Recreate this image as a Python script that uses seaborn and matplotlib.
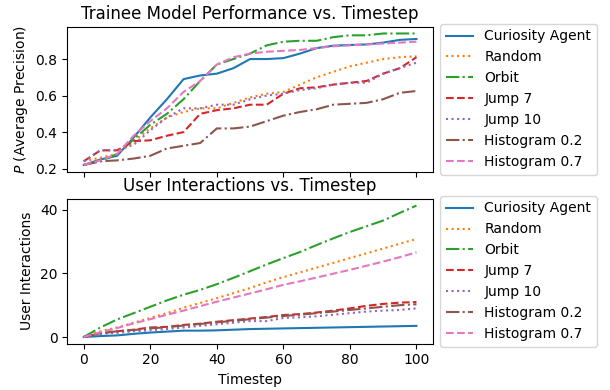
import numpy as np
import seaborn as sns
import matplotlib.pyplot as plt
import pandas as pd

timesteps = [0, 5, 10, 15, 20, 25, 30, 35, 40, 45, 50,
             55, 60, 65, 70, 75, 80, 85, 90, 95, 100]

agents = ["Curiosity Agent", "Random", "Orbit", "Jump 7", "Jump 10",
          "Histogram 0.2", "Histogram 0.7"]

# average precision per timestep
precision = {
    "Curiosity Agent": [0.22, 0.25, 0.27, 0.37, 0.48, 0.58, 0.69, 0.71, 0.72, 0.75, 0.80,
                        0.80, 0.805, 0.83, 0.86, 0.873, 0.877, 0.88, 0.89, 0.905, 0.91],
    "Random": [0.24, 0.26, 0.28, 0.35, 0.42, 0.48, 0.51, 0.53, 0.53, 0.56, 0.59,
               0.61, 0.62, 0.66, 0.70, 0.73, 0.76, 0.78, 0.80, 0.81, 0.815],
    "Orbit": [0.22, 0.24, 0.28, 0.36, 0.44, 0.50, 0.58, 0.68, 0.77, 0.80, 0.83,
              0.875, 0.895, 0.90, 0.90, 0.92, 0.93, 0.93, 0.94, 0.94, 0.94],
    "Jump 7": [0.24, 0.30, 0.30, 0.35, 0.355, 0.38, 0.40, 0.50, 0.52, 0.53, 0.55,
               0.55, 0.61, 0.64, 0.645, 0.66, 0.67, 0.68, 0.72, 0.75, 0.81],
    "Jump 10": [0.24, 0.30, 0.30, 0.33, 0.41, 0.48, 0.53, 0.53, 0.55, 0.55, 0.58,
                0.60, 0.61, 0.63, 0.64, 0.66, 0.67, 0.67, 0.72, 0.75, 0.78],
    "Histogram 0.2": [0.22, 0.24, 0.245, 0.255, 0.27, 0.31, 0.325, 0.34, 0.42, 0.42, 0.43,
                      0.46, 0.49, 0.51, 0.525, 0.55, 0.555, 0.56, 0.58, 0.615, 0.625],
    "Histogram 0.7": [0.22, 0.245, 0.28, 0.38, 0.46, 0.53, 0.62, 0.68, 0.77, 0.81, 0.83,
                      0.84, 0.845, 0.85, 0.86, 0.87, 0.875, 0.88, 0.885, 0.89, 0.895],
}

# cumulative user interactions per timestep
interactions = {
    "Curiosity Agent": [0, 0.3, 0.5, 1.0, 1.4, 1.7, 2.0, 2.0, 2.1, 2.3, 2.5,
                        2.6, 2.7, 2.8, 2.9, 3.0, 3.1, 3.2, 3.3, 3.4, 3.5],
    "Random": [0, 1.8, 3.0, 4.5, 6.0, 7.5, 9.2, 10.7, 12.2, 13.8, 15.4,
               17.2, 18.8, 20.3, 21.8, 23.3, 24.8, 26.3, 27.8, 29.3, 30.8],
    "Orbit": [0, 3.0, 5.5, 7.5, 9.5, 11.5, 13.3, 14.8, 16.6, 18.6, 20.7,
              22.8, 24.8, 26.7, 28.9, 31.0, 33.0, 34.8, 36.6, 39.0, 41.3],
    "Jump 7": [0, 1.2, 1.8, 2.3, 3.0, 3.2, 3.8, 4.2, 4.8, 5.3, 5.8,
               6.3, 6.9, 7.2, 7.7, 8.3, 9.0, 9.8, 10.4, 10.8, 11.0],
    "Jump 10": [0, 1.0, 1.3, 1.8, 2.1, 2.5, 3.0, 3.5, 4.0, 4.5, 5.0,
                5.0, 6.0, 6.2, 6.5, 7.0, 7.5, 8.0, 8.3, 8.5, 9.0],
    "Histogram 0.2": [0, 1.2, 1.8, 2.2, 2.7, 3.1, 3.6, 4.1, 4.6, 5.1, 5.6,
                      6.1, 6.6, 7.0, 7.5, 8.0, 8.5, 9.0, 9.5, 10.0, 10.3],
    "Histogram 0.7": [0, 1.5, 2.8, 4.3, 5.6, 7.0, 8.3, 9.7, 11.1, 12.4, 13.7,
                      15.0, 16.4, 17.5, 18.7, 19.9, 21.1, 22.4, 23.7, 25.1, 26.6],
}

colors = ['#1f77b4', '#ff7f0e', '#2ca02c', '#d62728', '#9467bd', '#8c564b', '#e377c2']
linestyles = ['-', ':', '-.', '--', ':', '-.', '--']

fig, axs = plt.subplots(2, 1, figsize=(6.1, 3.9), sharex=True)
plt.subplots_adjust(left=0.110, right=0.710, top=0.931, bottom=0.119, hspace=0.19)

for ax, data in zip(axs, [precision, interactions]):
    for i, name in enumerate(agents):
        df = pd.DataFrame({"t": timesteps, "v": data[name]})
        sns.lineplot(x="t", y="v", data=df, ax=ax, color=colors[i],
                     linestyle=linestyles[i], linewidth=1.5, label=name)
    ax.legend(loc='center left', bbox_to_anchor=(1, 0.5))

axs[0].set_title("Trainee Model Performance vs. Timestep")
axs[0].set_ylabel("$P$ (Average Precision)")
axs[0].set_xlabel("")
axs[0].set_yticks([0.2, 0.4, 0.6, 0.8])
axs[1].set_title("User Interactions vs. Timestep")
axs[1].set_ylabel("User Interactions")
axs[1].set_xlabel("Timestep")
axs[1].set_yticks([0, 20, 40])
axs[1].set_xticks([0, 20, 40, 60, 80, 100])

plt.savefig("out.png", dpi=100)
